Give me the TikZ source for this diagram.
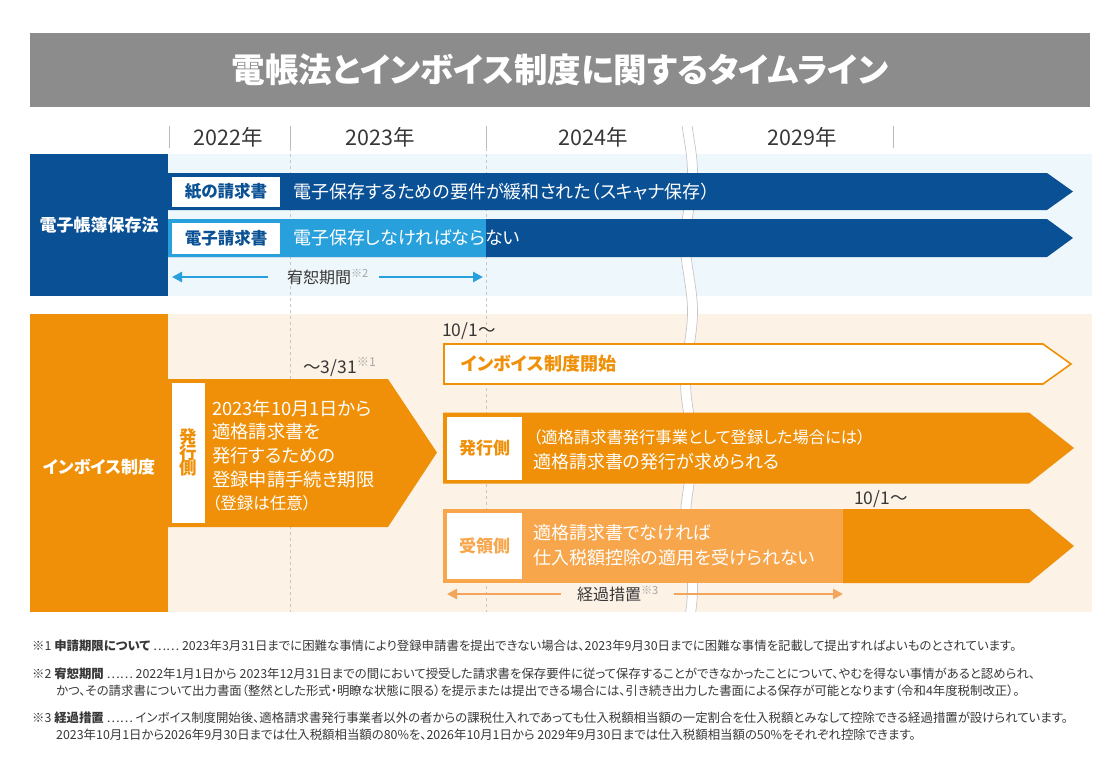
\documentclass[tikz,border=0pt]{standalone}
\usepackage{fontspec}
\setmainfont{Noto Sans CJK JP}[RawFeature=+palt]
\usepackage{xcolor}
\usetikzlibrary{arrows.meta}
\definecolor{titlegray}{RGB}{140,140,140}
\definecolor{denblue}{RGB}{10,80,148}
\definecolor{skyblue}{RGB}{40,160,220}
\definecolor{paleblue}{RGB}{238,247,252}
\definecolor{invorange}{RGB}{239,144,8}
\definecolor{lightorange}{RGB}{247,166,76}
\definecolor{spanorange}{RGB}{243,165,92}
\definecolor{paleorange}{RGB}{253,242,230}
\definecolor{ink}{RGB}{55,55,55}
\newcommand{\pxsize}[1]{\fontsize{#1}{#1}\selectfont}
\newcommand{\kome}[1]{\textsuperscript{\color{gray!70}※#1}}

\begin{document}
\begin{tikzpicture}[x=1pt, y=-1pt, >={Triangle[length=10pt,width=10pt]},
    font=\pxsize{15},
    secblk/.style={fill=#1, minimum width=138pt, inner sep=0pt},
    seclbl/.style={text=white, font=\bfseries\pxsize{17}, inner sep=0pt},
    yearlbl/.style={text=ink, inner sep=0pt, font=\pxsize{21.5}},
    yeartick/.style={draw=gray!55, line width=0.8pt},
    yearline/.style={draw=gray!45, dash pattern=on 3pt off 3pt, line width=0.6pt},
    breakline/.style={draw=gray!45, line width=0.7pt},
    tag/.style={fill=white, text=#1, font=\bfseries\pxsize{16.5}, inner sep=0pt},
    bartxt/.style={anchor=west, text=white, inner sep=0pt, font=\pxsize{18}},
    datelbl/.style={text=ink, inner sep=0pt, font=\pxsize{17.5}},
    spanlbl/.style={text=ink, inner sep=0pt, font=\pxsize{16}},
    spanarr/.style={->, #1, line width=2.8pt},
    note/.style={anchor=west, text=ink, inner sep=0pt, font=\pxsize{12.4}}]

    \useasboundingbox (0,0) rectangle (1120,764);

    % --- Title ---
    \node[fill=titlegray, text=white, font=\bfseries\pxsize{33.5},
          minimum width=1060pt, minimum height=74pt] (title) at (560,70)
      {電帳法とインボイス制度に関するタイムライン};

    % --- Years ---
    \node[yearlbl] (y22) at (228,137) {2022年};
    \node[yearlbl] (y23) at (380,137) {2023年};
    \node[yearlbl] (y24) at (593,137) {2024年};
    \node[yearlbl] (y29) at (802,137) {2029年};
    \foreach \tx in {169,290,486,893}
      \draw[yeartick] (\tx,126) -- (\tx,148);

    % --- Backgrounds ---
    \fill[paleblue] (168,154) rectangle (1092,296);
    \fill[paleorange] (168,314) rectangle (1092,612);
    \foreach \tx in {290,486}
      \draw[yearline] (\tx,148) -- (\tx,612);

    % --- Break mark ---
    \fill[white] plot[variable=\t, domain=126:612, samples=70, smooth]
        ({684+3.5*sin(2.6*\t)}, \t)
      -- plot[variable=\t, domain=612:126, samples=70, smooth]
        ({694+3.5*sin(2.6*\t)}, \t) -- cycle;
    \draw[breakline] plot[variable=\t, domain=126:612, samples=70, smooth]
        ({684+3.5*sin(2.6*\t)}, \t);
    \draw[breakline] plot[variable=\t, domain=126:612, samples=70, smooth]
        ({694+3.5*sin(2.6*\t)}, \t);

    % --- 電子帳簿保存法 ---
    \node[secblk=denblue, minimum height=142pt] (denblk) at (99,225) {};
    \node[seclbl] (denlbl) at (99,225) {電子帳簿保存法};

    \fill[denblue] (168,173) -- (1047,173) -- (1073,191.5) -- (1047,210) -- (168,210) -- cycle;
    \fill[denblue] (168,219) -- (1047,219) -- (1073,238) -- (1047,257) -- (168,257) -- cycle;
    \fill[skyblue] (168,219) rectangle (486,257);

    \node[tag=denblue, minimum width=108pt, minimum height=30pt] (paper) at (226,191.5) {紙の請求書};
    \node[bartxt] (papertxt) at (293,191.5) {電子保存するための要件が緩和された（スキャナ保存）};
    \node[tag=denblue, minimum width=108pt, minimum height=31pt] (edoc) at (226,238) {電子請求書};
    \node[bartxt] (edoctxt) at (293,238) {電子保存しなければならない};

    \node[spanlbl] (grace) at (328,277) {宥恕期間\kome{2}};
    \coordinate (graceL) at (172,277);
    \coordinate (graceR) at (483,277);
    \draw[spanarr=skyblue] ([xshift=-19pt]grace.west) -- (graceL);
    \draw[spanarr=skyblue] ([xshift=10pt]grace.east) -- (graceR);

    % --- インボイス制度 ---
    \node[secblk=invorange, minimum height=298pt] (invblk) at (99,463) {};
    \node[seclbl] (invlbl) at (99,467) {インボイス制度};

    \node[datelbl] (mar31) at (340,367) {〜3/31\kome{1}};
    \fill[invorange] (168,379) -- (388,379) -- (437,452.5) -- (388,527) -- (168,527) -- cycle;
    \node[fill=white, text=invorange, font=\bfseries\pxsize{17.5}, align=center,
          minimum width=33pt, minimum height=140pt, inner sep=0pt] (regside) at (188.5,452.5)
      {発\\[-2pt]行\\[-2pt]側};
    \node[anchor=west, text=white, align=left, inner sep=0pt,
          font=\fontsize{18.3}{23.7}\selectfont] (regtxt) at (212,455.5)
      {2023年10月1日から\\適格請求書を\\発行するための\\登録申請手続き期限\\{\pxsize{16.5}（登録は任意）}};

    \node[datelbl, anchor=west] (oct1) at (442,331) {10/1〜};
    \filldraw[fill=white, draw=invorange, line width=1.6pt]
      (444,344) -- (1043,344) -- (1071,364) -- (1043,384) -- (444,384) -- cycle;
    \node[anchor=west, text=invorange, inner sep=0pt, font=\bfseries\pxsize{18}] (start) at (461,364)
      {インボイス制度開始};

    \fill[invorange] (443,412.5) -- (1029,412.5) -- (1074,448) -- (1029,483.5) -- (443,483.5) -- cycle;
    \node[tag=invorange, minimum width=75pt, minimum height=63pt, font=\bfseries\pxsize{17}] (issuer) at (484.5,448) {発行側};
    \node[bartxt, font=\pxsize{16.3}] (issuertxt) at (533,437)
      {（適格請求書発行事業として登録した場合には）};
    \node[bartxt] (issuertxt2) at (533,461.5) {適格請求書の発行が求められる};

    \node[datelbl, anchor=west] (oct1b) at (854,499) {10/1〜};
    \fill[lightorange] (443,509) rectangle (843,583);
    \fill[invorange] (843,509) -- (1029,509) -- (1074,546) -- (1029,583) -- (843,583) -- cycle;
    \node[tag=lightorange, minimum width=75pt, minimum height=66pt, font=\bfseries\pxsize{17}] (receiver) at (484.5,546) {受領側};
    \node[bartxt] (receivertxt) at (533,533) {適格請求書でなければ};
    \node[bartxt] (receivertxt2) at (533,557.5) {仕入税額控除の適用を受けられない};

    \node[spanlbl] (trans) at (618,594) {経過措置\kome{3}};
    \coordinate (transL) at (447,594);
    \coordinate (transR) at (843,594);
    \draw[spanarr=spanorange] ([xshift=-16pt]trans.west) -- (transL);
    \draw[spanarr=spanorange] ([xshift=15pt]trans.east) -- (transR);

    % --- Notes ---
    \node[note] (n1) at (32,646)
      {※1 {\bfseries 申請期限について} ⋯⋯ 2023年3月31日までに困難な事情により登録申請書を提出できない場合は、2023年9月30日までに困難な事情を記載して提出すればよいものとされています。};
    \node[note] (n2) at (32,674)
      {※2 {\bfseries 宥恕期間} ⋯⋯ 2022年1月1日から 2023年12月31日までの間において授受した請求書を保存要件に従って保存することができなかったことについて、やむを得ない事情があると認められ、};
    \node[note] (n2b) at (56,691)
      {かつ、その請求書について出力書面（整然とした形式・明瞭な状態に限る）を提示または提出できる場合には、引き続き出力した書面による保存が可能となります（令和4年度税制改正）。};
    \node[note] (n3) at (32,718)
      {※3 {\bfseries 経過措置} ⋯⋯ インボイス制度開始後、適格請求書発行事業者以外の者からの課税仕入れであっても仕入税額相当額の一定割合を仕入税額とみなして控除できる経過措置が設けられています。};
    \node[note] (n3b) at (56,735)
      {2023年10月1日から2026年9月30日までは仕入税額相当額の80\%を、2026年10月1日から 2029年9月30日までは仕入税額相当額の50\%をそれぞれ控除できます。};
  \end{tikzpicture}
\end{document}
